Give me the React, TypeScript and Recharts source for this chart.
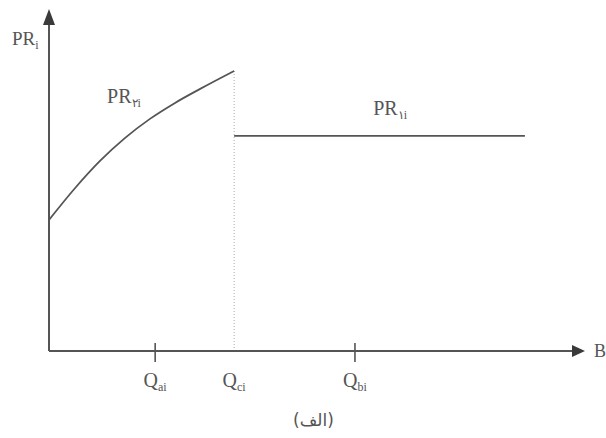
import React from "react";
import {
  LineChart,
  Line,
  XAxis,
  YAxis,
  ReferenceLine,
  ReferenceDot,
} from "recharts";

// Curve PR2i (left of Qci) and flat line PR1i (right of Qci)
const curveX = [0, 5, 9.75, 14.5, 19.3, 24.1, 28.9, 35.4];
const curveY = [40.2, 50, 58.3, 65.3, 71.2, 76.1, 80.4, 85.9];
const flatX = [35.4, 91];
const flatY = [66, 66];

// x-axis ticks
const tickValues = [20.3, 35.4, 58.5];
const tickSubs = ["ai", "ci", "bi"];
const tickHasMark = [true, false, true];

const curveData = curveX.map((x, i) => ({ x, y: curveY[i] }));
const flatData = flatX.map((x, i) => ({ x, y: flatY[i] }));

const INK = "#555";
const FONT = "'Liberation Serif', 'DejaVu Serif', serif";

function QTick(props: any) {
  const { x, y, payload } = props;
  const i = tickValues.indexOf(payload.value);
  return (
    <g>
      {tickHasMark[i] && (
        <line x1={x} y1={y - 10} x2={x} y2={y + 9} stroke={INK} strokeWidth={1.6} />
      )}
      <text x={x} y={y + 34} textAnchor="middle" fontFamily={FONT} fontSize={20} fill={INK}>
        Q
        <tspan fontSize={12} dy={4}>
          {tickSubs[i]}
        </tspan>
      </text>
    </g>
  );
}

function subLabel(main: string, sub: string, dx: number, dy: number, size = 20) {
  return (props: any) => (
    <text x={props.cx + dx} y={props.cy + dy} fontFamily={FONT} fontSize={size} fill={INK}>
      {main}
      {sub && (
        <tspan fontSize={12} dy={4}>
          {sub}
        </tspan>
      )}
    </text>
  );
}

const arrowRight = (props: any) => (
  <polygon
    points={`${props.cx},${props.cy - 6} ${props.cx + 13},${props.cy} ${props.cx},${props.cy + 6}`}
    fill="#3a3a3a"
  />
);

const arrowUp = (props: any) => (
  <polygon
    points={`${props.cx - 6},${props.cy} ${props.cx},${props.cy - 16} ${props.cx + 6},${props.cy}`}
    fill="#3a3a3a"
  />
);

export default function App() {
  return (
    <div style={{ position: "absolute", left: 0, top: 0, width: 606, height: 438, background: "#fff" }}>
      <LineChart
        width={606}
        height={438}
        margin={{ top: 25, right: 34, left: 48, bottom: 12 }}
      >
        <XAxis
          type="number"
          dataKey="x"
          domain={[0, 100]}
          ticks={tickValues}
          tick={<QTick />}
          tickLine={false}
          tickSize={0}
          height={75}
          axisLine={{ stroke: INK, strokeWidth: 2 }}
          allowDataOverflow
          label={{
            value: "(الف)",
            position: "insideBottom",
            offset: 0,
            dx: 3,
            fill: INK,
            fontSize: 17,
            fontFamily: "'DejaVu Sans', sans-serif",
          }}
        />
        <YAxis
          type="number"
          dataKey="y"
          domain={[0, 100]}
          width={1}
          tick={false}
          tickLine={false}
          axisLine={false}
          allowDataOverflow
        />
        <ReferenceLine
          segment={[
            { x: 0, y: 0 },
            { x: 0, y: 100 },
          ]}
          stroke={INK}
          strokeWidth={2}
          ifOverflow="visible"
        />
        <ReferenceLine
          segment={[
            { x: 35.4, y: 0 },
            { x: 35.4, y: 85.9 },
          ]}
          stroke="#aaa"
          strokeDasharray="1 2"
          strokeWidth={1}
        />
        <Line
          data={curveData}
          dataKey="y"
          type="monotone"
          stroke={INK}
          strokeWidth={1.8}
          dot={false}
          isAnimationActive={false}
        />
        <Line
          data={flatData}
          dataKey="y"
          type="linear"
          stroke={INK}
          strokeWidth={1.8}
          dot={false}
          isAnimationActive={false}
        />
        <ReferenceDot x={100} y={0} r={0} ifOverflow="visible" shape={arrowRight} />
        <ReferenceDot x={0} y={100} r={0} ifOverflow="visible" shape={arrowUp} />
        <ReferenceDot x={0} y={100} r={0} ifOverflow="visible" shape={subLabel("PR", "i", -37, 20, 19)} />
        <ReferenceDot x={100} y={0} r={0} ifOverflow="visible" shape={subLabel("B", "", 22, 6, 18)} />
        <ReferenceDot x={11.1} y={76} r={0} ifOverflow="visible" shape={subLabel("PR", "۲i", 0, 0)} />
        <ReferenceDot x={62} y={72.4} r={0} ifOverflow="visible" shape={subLabel("PR", "۱i", 0, 0)} />
      </LineChart>
    </div>
  );
}
